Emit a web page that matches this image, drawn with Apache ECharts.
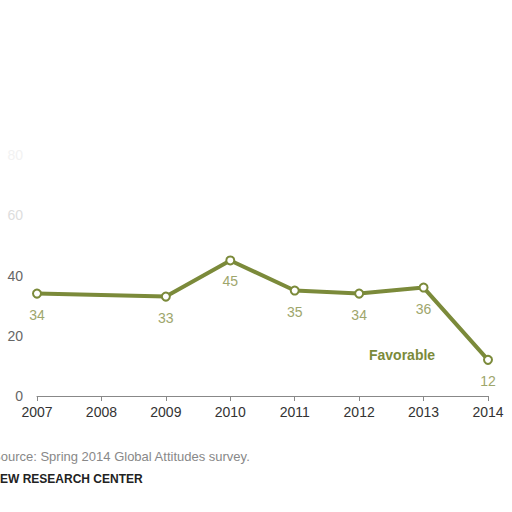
<!DOCTYPE html>
<html>
<head>
<meta charset="utf-8">
<script src="https://cdn.jsdelivr.net/npm/echarts@6/dist/echarts.min.js"></script>
<style>
  html, body { margin: 0; padding: 0; background: #fff; }
  #chart { width: 512px; height: 512px; }
</style>
</head>
<body>
<div id="chart"></div>
<script>
const years = ['2007', '2008', '2009', '2010', '2011', '2012', '2013', '2014'];
// no survey in 2008, so that slot stays empty
const favorable = [34, null, 33, 45, 35, 34, 36, 12];
const yTicks = [0, 20, 40, 60, 80];

const olive = '#7b8a3a';
const labelOlive = '#9ea66c';

const chart = echarts.init(document.getElementById('chart'), null, { renderer: 'svg' });

chart.setOption({
    animation: false,
    grid: { left: 37, right: 24, top: 155, bottom: 116 },
    xAxis: {
        type: 'category',
        data: years,
        boundaryGap: false,
        axisLine: { lineStyle: { color: '#888', width: 1 } },
        axisTick: { alignWithLabel: true, length: 5, lineStyle: { color: '#888' } },
        axisLabel: { color: '#333', fontSize: 14, fontFamily: 'Liberation Sans', margin: 9 }
    },
    yAxis: {
        type: 'value',
        min: yTicks[0],
        max: yTicks[yTicks.length - 1],
        interval: 20,
        splitLine: { show: false },
        axisLine: { show: false },
        axisTick: { show: false },
        axisLabel: {
            fontSize: 14,
            fontFamily: 'Liberation Sans',
            margin: 14,
            color: (v) => v >= 80 ? '#f2f2f2' : v >= 60 ? '#dddddd' : '#666'
        }
    },
    series: [{
        name: 'Favorable',
        type: 'line',
        data: favorable,
        connectNulls: true,
        symbol: 'circle',
        symbolSize: 8,
        lineStyle: { color: olive, width: 4 },
        itemStyle: { color: '#fff', borderColor: olive, borderWidth: 2 },
        label: {
            show: true,
            position: 'bottom',
            distance: 9,
            color: labelOlive,
            fontSize: 14,
            fontFamily: 'Liberation Sans'
        }
    }],
    graphic: [
        {
            type: 'text', left: 369, top: 348,
            style: { text: 'Favorable', fill: olive, font: 'bold 14px "Liberation Sans"' }
        },
        {
            type: 'text', left: -8, top: 450,
            style: { text: 'Source: Spring 2014 Global Attitudes survey.', fill: '#888', font: '13px "Liberation Sans"' }
        },
        {
            type: 'text', left: -8, top: 473,
            style: { text: 'PEW RESEARCH CENTER', fill: '#222', font: 'bold 12px "Liberation Sans"' }
        }
    ]
});
</script>
</body>
</html>
